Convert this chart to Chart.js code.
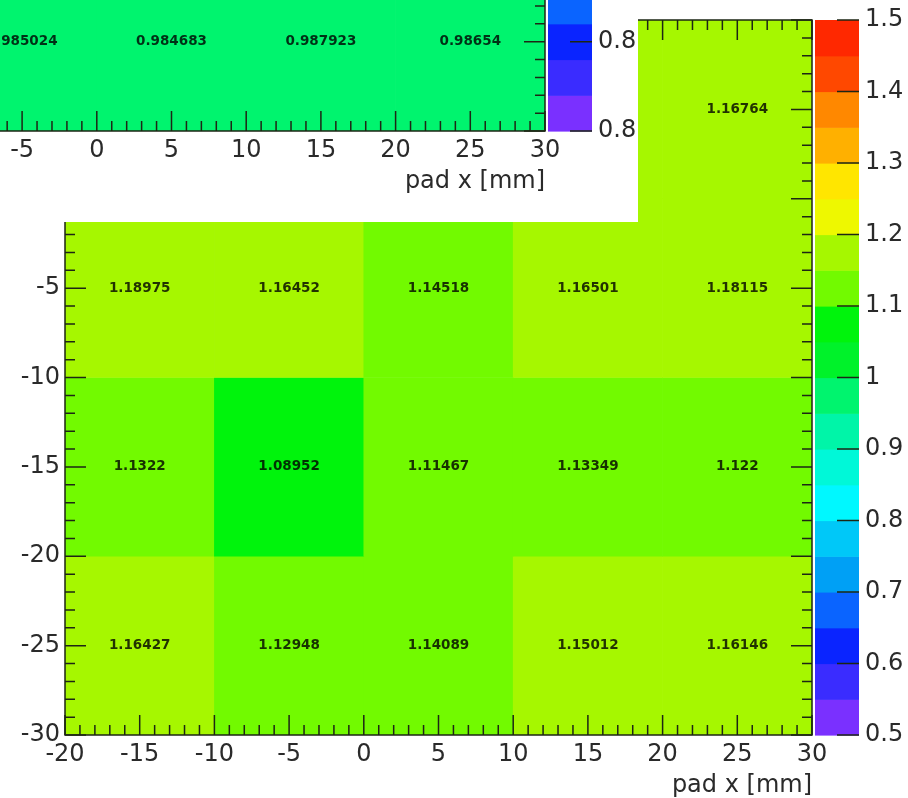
<!DOCTYPE html>
<html>
<head>
<meta charset="utf-8">
<title>pad gain map</title>
<script src="https://cdn.jsdelivr.net/npm/chart.js@4.4.1/dist/chart.umd.min.js"></script>
<style>
  html, body { margin: 0; padding: 0; background: #fff; }
  #wrap { position: relative; width: 908px; height: 798px; overflow: hidden; }
  #main { position: absolute; left: 0; top: 0; }
  #inset { position: absolute; left: 0; top: 0; width: 638px; height: 222px; overflow: hidden; background: #fff; }
  #inset canvas { position: absolute; left: -267px; top: -604px; }
</style>
</head>
<body>
<div id="wrap">
  <canvas id="main" width="908" height="798"></canvas>
  <div id="inset"><canvas id="prev" width="908" height="798"></canvas></div>
</div>
<script>
// pad centres in mm, pads are 10 mm wide
const padX = [-15, -5, 5, 15, 25];
const padY = [5, -5, -15, -25];
const padSize = 10;

// relative gain per pad, one list per pad row (null = no reading)
const gainY5   = [null, null, null, 1.16, 1.16764];
const gainYm5  = [1.18975, 1.16452, 1.14518, 1.16501, 1.18115];
const gainYm15 = [1.1322, 1.08952, 1.11467, 1.13349, 1.122];
const gainYm25 = [1.16427, 1.12948, 1.14089, 1.15012, 1.16146];

// previous run, bottom pad row
const prevYm25 = [null, 0.985024, 0.984683, 0.987923, 0.98654];

// axis ticks
const xTickValues = [-20, -15, -10, -5, 0, 5, 10, 15, 20, 25, 30];
const yTickValues = [-30, -25, -20, -15, -10, -5, 0, 5, 10];
const zTickValues = [0.5, 0.6, 0.7, 0.8, 0.9, 1.0, 1.1, 1.2, 1.3, 1.4, 1.5];
const zTickLabels = ['0.5', '0.6', '0.7', '0.8', '0.9', '1', '1.1', '1.2', '1.3', '1.4', '1.5'];
const prevZTickValues = [0.5, 0.625];
const prevZTickLabels = ['0.8', '0.8'];

// colour scale, 20 levels from zMin to zMax
const zMin = 0.5, zMax = 1.5;
const palette = [
  '#7a30ff', '#3a2cff', '#0a24ff', '#0a64ff', '#00a0f5',
  '#00c8f8', '#00f8ff', '#00f8d8', '#00f5a8', '#00f46e',
  '#00f22a', '#00f40c', '#72fa00', '#a6f700', '#eef800',
  '#ffe600', '#ffb000', '#ff8800', '#ff4800', '#ff2800'
];

const textColor = '#2a2a2a';
Chart.defaults.font.family = '"DejaVu Sans", sans-serif';

function gainColor(v) {
  let i = Math.floor((v - zMin) / (zMax - zMin) * palette.length);
  i = Math.max(0, Math.min(palette.length - 1, i));
  return palette[i];
}

// frame with inward ticks, value text on every pad, and the colour bar
const padFrame = {
  id: 'padFrame',
  afterDatasetsDraw(chart) {
    const { ctx, chartArea: a, scales } = chart;
    const x = scales.x, y = scales.y, z = scales.z;
    ctx.save();

    ctx.font = 'bold 13.5px "DejaVu Sans"';
    ctx.fillStyle = 'rgba(0,0,0,0.8)';
    ctx.textAlign = 'center';
    ctx.textBaseline = 'middle';
    chart.data.datasets.forEach(ds => ds.data.forEach(d => {
      ctx.fillText(String(d.gain), x.getPixelForValue(d.x), y.getPixelForValue((d.y[0] + d.y[1]) / 2));
    }));

    const step = (zMax - zMin) / palette.length;
    const cbL = a.right + 3, cbR = a.right + 47;
    palette.forEach((c, i) => {
      const top = z.getPixelForValue(zMin + (i + 1) * step);
      const bot = z.getPixelForValue(zMin + i * step);
      ctx.fillStyle = c;
      ctx.fillRect(cbL, top, cbR - cbL, bot - top + 0.6);
    });

    ctx.strokeStyle = '#1d2614';
    ctx.lineWidth = 1.5;
    ctx.strokeRect(a.left, a.top, a.width, a.height);
    ctx.beginPath();
    for (let v = x.min; v <= x.max; v++) {
      const px = x.getPixelForValue(v), len = v % 5 === 0 ? 20 : 10;
      ctx.moveTo(px, a.bottom); ctx.lineTo(px, a.bottom - len);
      ctx.moveTo(px, a.top); ctx.lineTo(px, a.top + len);
    }
    for (let v = y.min; v <= y.max; v++) {
      const py = y.getPixelForValue(v), len = v % 5 === 0 ? 21 : 10;
      ctx.moveTo(a.left, py); ctx.lineTo(a.left + len, py);
      ctx.moveTo(a.right, py); ctx.lineTo(a.right - len, py);
    }
    z.ticks.forEach(t => {
      const py = z.getPixelForValue(t.value);
      ctx.moveTo(cbR - 22, py); ctx.lineTo(cbR, py);
    });
    ctx.stroke();
    ctx.restore();
  }
};

function fixedTicks(values) {
  return scale => { scale.ticks = values.map(v => ({ value: v })); };
}

// fix axis box sizes so the frame sits at the same place on every canvas
function fixedSize(w, h) {
  return s => {
    if (w !== null) s.width = w;
    if (h !== null) s.height = h;
    s.paddingTop = 0; s.paddingBottom = 0;
    s.paddingLeft = 0; s.paddingRight = 0;
  };
}

function padMap(canvas, rows, zValues, zLabels) {
  const datasets = rows.map(row => ({
    data: padX.map((px, i) => ({ x: px, y: [row.y - padSize / 2, row.y + padSize / 2], gain: row.gains[i] }))
              .filter(d => d.gain !== null),
    backgroundColor: ctx => gainColor(ctx.raw.gain),
    borderWidth: 0,
    barPercentage: 1,
    categoryPercentage: 1,
    grouped: false,
    xAxisID: 'xBin',
    yAxisID: 'y'
  }));

  const tickFont = { family: '"DejaVu Sans", sans-serif', size: 24 };

  return new Chart(canvas, {
    type: 'bar',
    data: { datasets },
    options: {
      responsive: false,
      animation: false,
      events: [],
      layout: { padding: { top: 20, left: 0, right: 0, bottom: 0 } },
      plugins: { legend: { display: false }, tooltip: { enabled: false } },
      scales: {
        xBin: {
          type: 'linear', display: false, offset: false,
          min: -20, max: 30, ticks: { stepSize: padSize }
        },
        x: {
          type: 'linear', position: 'bottom', min: -20, max: 30, offset: false,
          afterBuildTicks: fixedTicks(xTickValues),
          afterFit: fixedSize(null, 63),
          grid: { display: false, drawTicks: false, offset: false },
          border: { display: false },
          ticks: { autoSkip: false, maxRotation: 0, padding: 5, color: textColor, font: tickFont },
          title: {
            display: true, text: 'pad x [mm]', align: 'end', color: textColor,
            font: { family: '"DejaVu Sans", sans-serif', size: 24, lineHeight: 1 },
            padding: { top: 0, bottom: 0 }
          }
        },
        y: {
          type: 'linear', position: 'left', min: -30, max: 10, offset: false,
          afterBuildTicks: fixedTicks(yTickValues),
          afterFit: fixedSize(65, null),
          grid: { display: false, drawTicks: false },
          border: { display: false },
          ticks: { autoSkip: false, padding: 5, color: textColor, font: tickFont }
        },
        z: {
          type: 'linear', axis: 'y', position: 'right', min: zMin, max: zMax, offset: false,
          afterBuildTicks: fixedTicks(zValues),
          afterFit: fixedSize(96, null),
          grid: { display: false, drawTicks: false },
          border: { display: false },
          ticks: {
            autoSkip: false, padding: 53, color: textColor, font: tickFont,
            callback: (v, i) => zLabels[i]
          }
        }
      }
    },
    plugins: [padFrame]
  });
}

padMap(document.getElementById('main'), [
  { y: padY[0], gains: gainY5 },
  { y: padY[1], gains: gainYm5 },
  { y: padY[2], gains: gainYm15 },
  { y: padY[3], gains: gainYm25 }
], zTickValues, zTickLabels);

padMap(document.getElementById('prev'), [
  { y: padY[3], gains: prevYm25 }
], prevZTickValues, prevZTickLabels);
</script>
</body>
</html>
